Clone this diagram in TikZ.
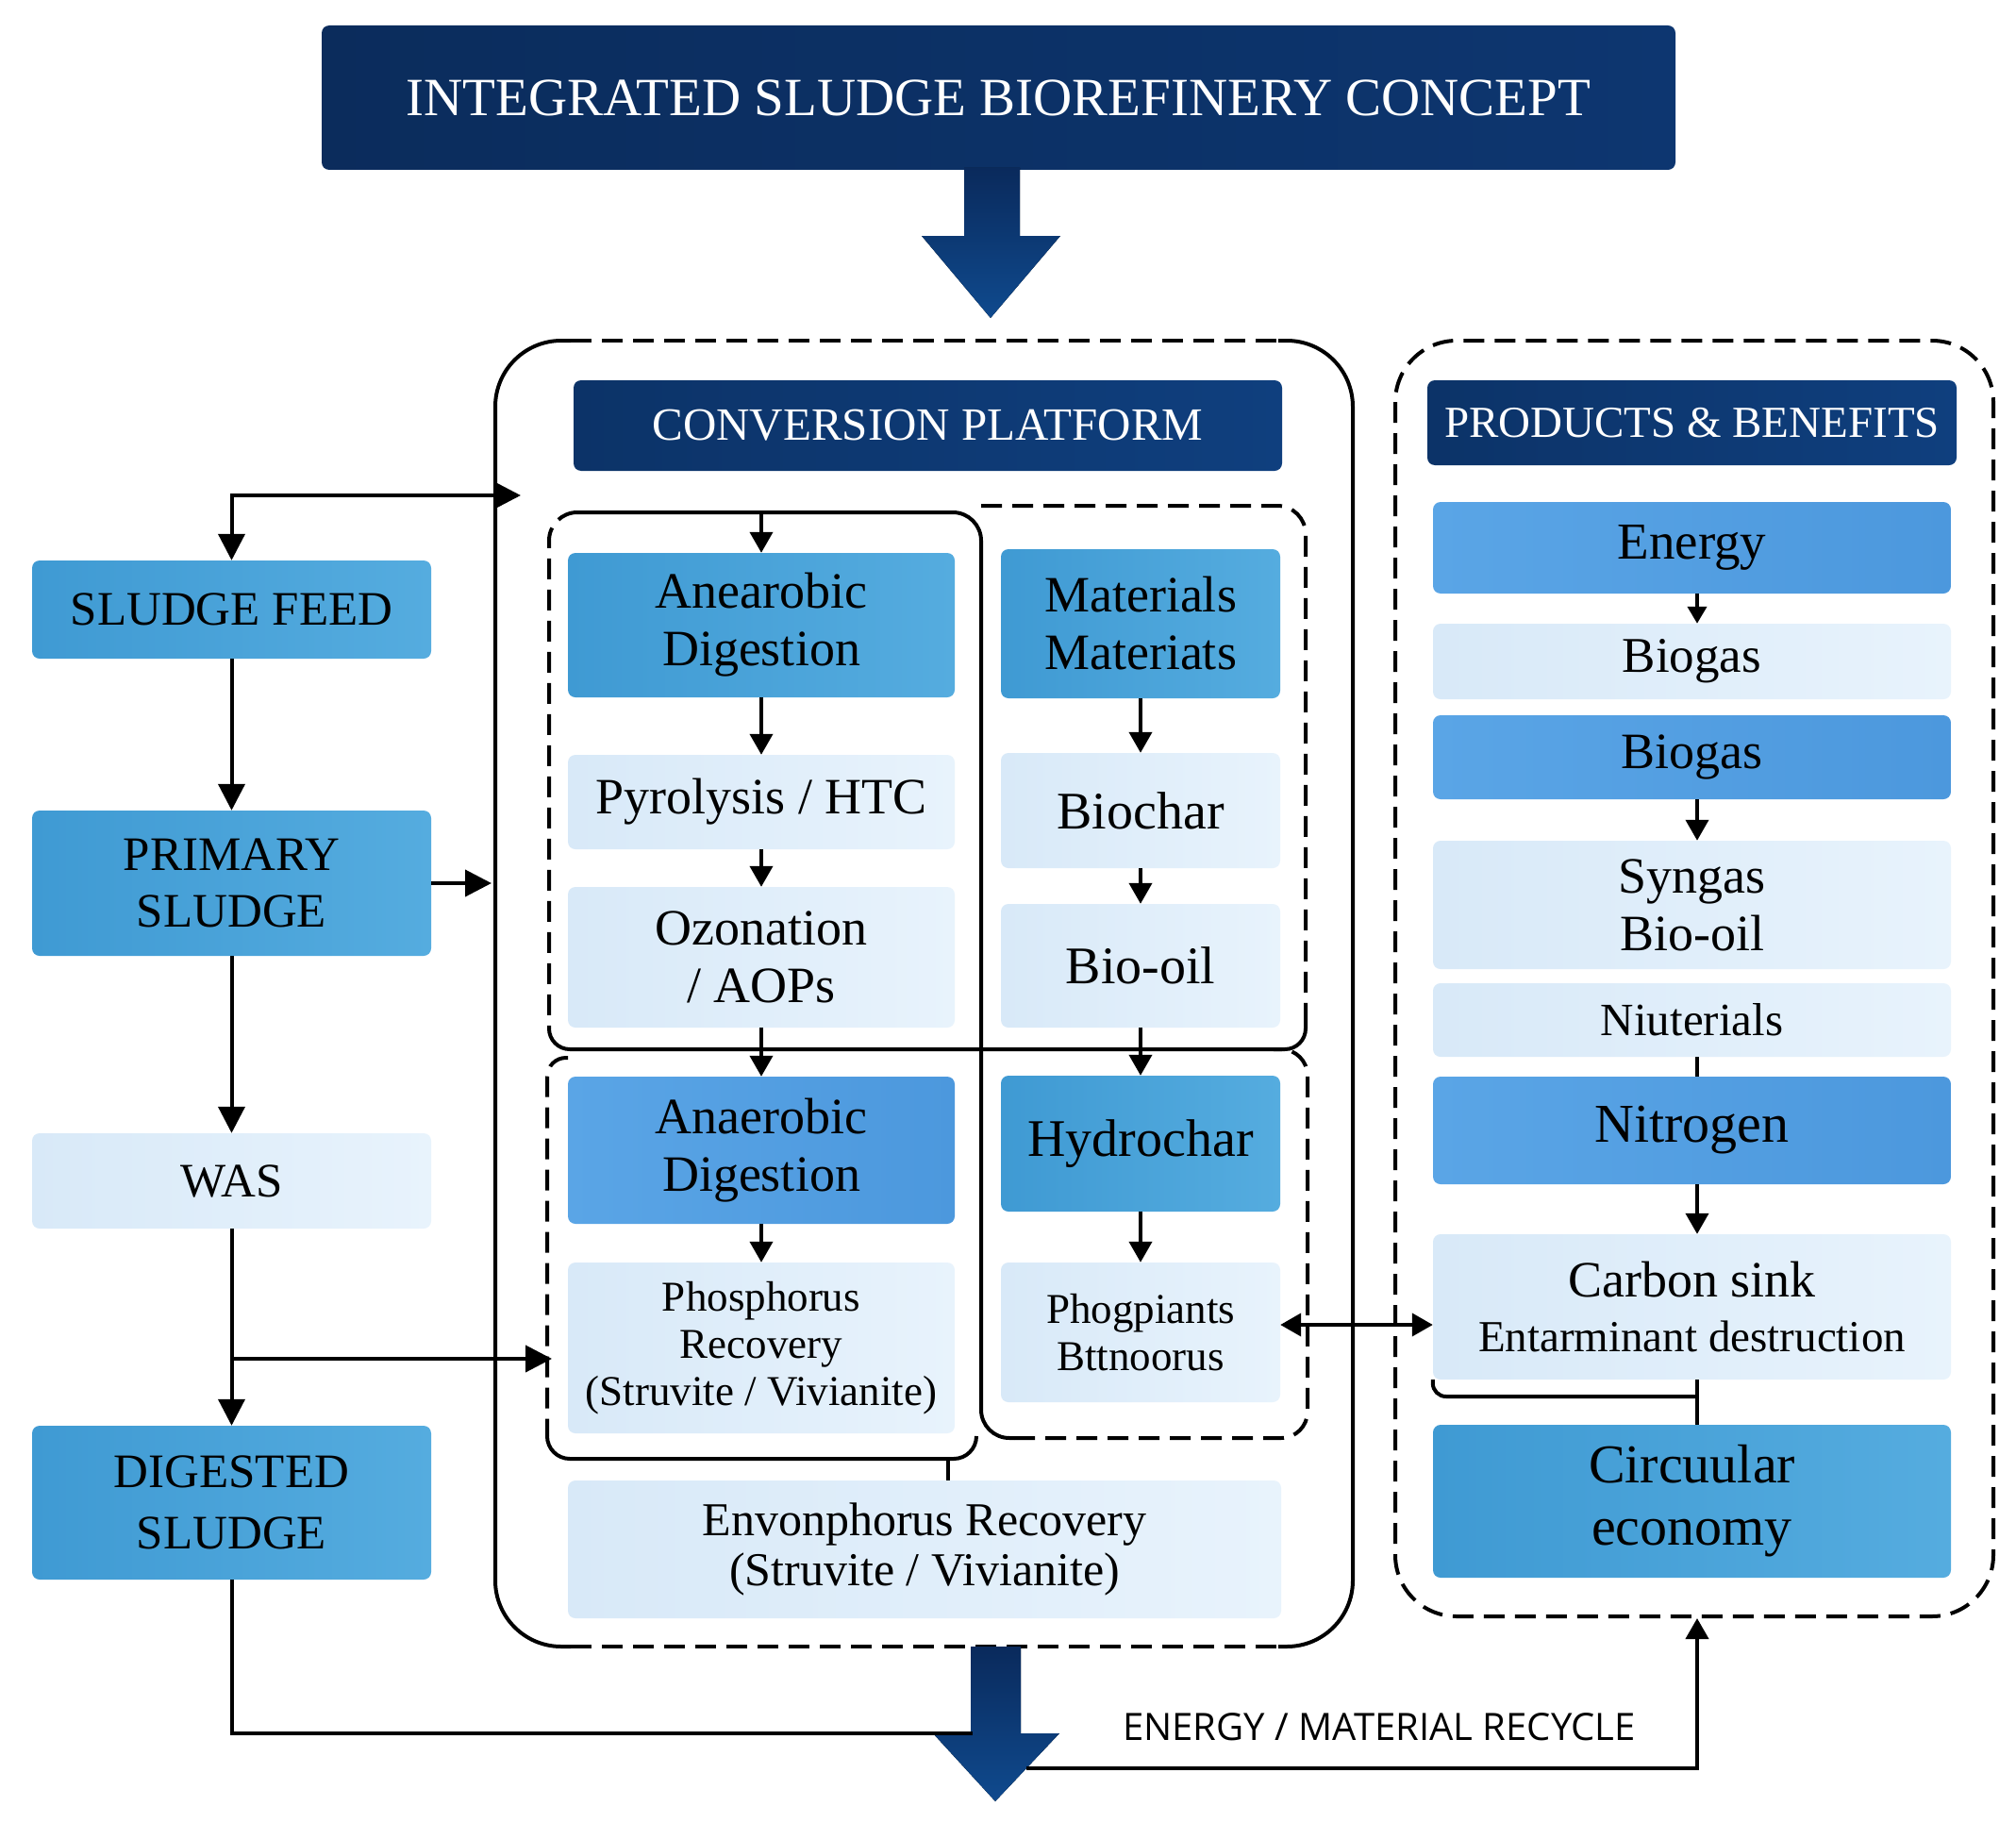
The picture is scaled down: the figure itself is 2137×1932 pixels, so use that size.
\documentclass[tikz,border=0pt]{standalone}
\usepackage{fontspec}
\setmainfont{Liberation Serif}
\newfontfamily\labelsans{Open Sans}
\usetikzlibrary{arrows.meta}
\definecolor{medL}{HTML}{3F9AD3}
\definecolor{medR}{HTML}{55ACDF}
\definecolor{briL}{HTML}{5AA5E6}
\definecolor{briR}{HTML}{4C98DD}
\definecolor{liteL}{HTML}{D8E9F8}
\definecolor{liteR}{HTML}{E8F3FC}
\definecolor{navyL}{HTML}{0B2C5C}
\definecolor{navyR}{HTML}{0D3670}
\definecolor{hdrL}{HTML}{0C3368}
\definecolor{hdrR}{HTML}{0F3F7E}
\definecolor{arrTop}{HTML}{0A2A5C}
\definecolor{arrBot}{HTML}{0F4A8E}
\tikzset{
  base/.style={rounded corners=8pt, inner sep=0pt, align=center, text=black},
  med/.style={base, left color=medL, right color=medR},
  bri/.style={base, left color=briL, right color=briR},
  lite/.style={base, left color=liteL, right color=liteR},
  hdr/.style={base, left color=hdrL, right color=hdrR, text=white},
  conn/.style={line width=4pt, draw=black},
  frm/.style={line width=4pt, draw=black},
  frmd/.style={line width=4pt, draw=black, dash pattern=on 22pt off 11pt},
  BigT/.tip={Triangle[length=28pt,width=28pt]},
  MidT/.tip={Triangle[length=22pt,width=24pt]},
  SmT/.tip={Triangle[length=18pt,width=20pt]},
  bigarrow/.style={top color=arrTop, bottom color=arrBot, draw=none},
  fa/.style={font=\fontsize{51pt}{60pt}\selectfont},
  fb/.style={font=\fontsize{54pt}{61pt}\selectfont},
  fc/.style={font=\fontsize{45pt}{50pt}\selectfont},
  fd/.style={font=\fontsize{50pt}{53pt}\selectfont},
}
\begin{document}
\begin{tikzpicture}[x=1pt,y=-1pt]
\useasboundingbox[fill=white] (0,0) rectangle (2137,1932);

% ---------- title ----------
\node[base, left color=navyL, right color=navyR, text=white, minimum width=1435pt, minimum height=153pt,
      font=\fontsize{57pt}{60pt}\selectfont] (title) at (1058.5,103.5) {INTEGRATED SLUDGE BIOREFINERY CONCEPT};

% ---------- frames ----------
\draw[frm, rounded corners=70pt] (605,361) -| (525,1745) -- (605,1745);
\draw[frm, rounded corners=70pt] (1355,361) -| (1434,1745) -- (1355,1745);
\draw[frmd] (605,361) -- (1355,361);
\draw[frmd] (605,1745) -- (1355,1745);
\draw[frmd, rounded corners=65pt] (1479,361) rectangle (2113,1713);

% inner group frames
\draw[frm, rounded corners=30pt] (612,543) -| (1040,1524) -- (1075,1524);
\draw[frmd, rounded corners=28pt] (1075,1524) -| (1386,1112) -- (1350,1112);
\draw[frmd, rounded corners=30pt] (1040,536) -| (1384,1085);
\draw[frm, rounded corners=22pt] (1384,1085) |- (582,1112) -- (582,1090);
\draw[frmd, rounded corners=30pt] (612,543) -| (582,1090);
\draw[frmd, rounded corners=20pt] (602,1121) -| (580,1521);
\draw[frm, rounded corners=24pt] (580,1521) |- (1035,1546) -- (1035,1522);

% ---------- left column ----------
\node[med, fa, minimum width=423pt, minimum height=104pt] (sf) at (245.5,646) {SLUDGE FEED};
\node[med, fa, minimum width=423pt, minimum height=154pt] (ps) at (245.5,936) {PRIMARY\\SLUDGE};
\node[lite, fa, minimum width=423pt, minimum height=101pt] (was) at (245.5,1251.5) {WAS};
\node[med, font=\fontsize{51pt}{65pt}\selectfont, minimum width=423pt, minimum height=163pt] (ds) at (245.5,1592.5) {DIGESTED\\SLUDGE};

% ---------- conversion platform ----------
\node[hdr, font=\fontsize{49pt}{52pt}\selectfont, minimum width=751pt, minimum height=96pt] (cph) at (983.5,451) {CONVERSION PLATFORM};
\node[med, fb, minimum width=410pt, minimum height=153pt] (ad1) at (807,662.5) {Anearobic\\Digestion};
\node[lite, fb, minimum width=410pt, minimum height=100pt] (pyr) at (807,850) {Pyrolysis / HTC};
\node[lite, fb, minimum width=410pt, minimum height=149pt] (ozo) at (807,1014.5) {Ozonation\\/ AOPs};
\node[med, fb, minimum width=296pt, minimum height=158pt] (mat) at (1209,661) {Materials\\Materiats};
\node[lite, font=\fontsize{56pt}{61pt}\selectfont, minimum width=296pt, minimum height=122pt] (bioc) at (1209,859) {Biochar};
\node[lite, font=\fontsize{56pt}{61pt}\selectfont, minimum width=296pt, minimum height=131pt] (bioo) at (1209,1023.5) {Bio-oil};
\node[bri, fb, minimum width=410pt, minimum height=156pt] (ad2) at (807,1219) {Anaerobic\\Digestion};
\node[lite, fc, minimum width=410pt, minimum height=181pt] (phos) at (807,1428.5) {Phosphorus\\Recovery\\(Struvite / Vivianite)};
\node[med, font=\fontsize{56pt}{61pt}\selectfont, minimum width=296pt, minimum height=144pt] (hyd) at (1209,1212) {Hydrochar};
\node[lite, fc, minimum width=296pt, minimum height=148pt] (phog) at (1209,1412) {Phogpiants\\Bttnoorus};
\node[lite, fd, minimum width=756pt, minimum height=146pt] (env) at (980,1642) {Envonphorus Recovery\\(Struvite / Vivianite)};

% ---------- products ----------
\node[hdr, font=\fontsize{47pt}{50pt}\selectfont, minimum width=561pt, minimum height=90pt] (pbh) at (1793.5,448) {PRODUCTS \& BENEFITS};
\node[bri, font=\fontsize{55pt}{61pt}\selectfont, minimum width=549pt, minimum height=97pt] (energy) at (1793.5,580.5) {Energy};
\node[lite, font=\fontsize{53pt}{60pt}\selectfont, minimum width=549pt, minimum height=80pt] (biog1) at (1793.5,701) {Biogas};
\node[bri, fb, minimum width=549pt, minimum height=89pt] (biog2) at (1793.5,802.5) {Biogas};
\node[lite, fb, minimum width=549pt, minimum height=136pt] (syn) at (1793.5,959) {Syngas\\Bio-oil};
\node[lite, font=\fontsize{49pt}{52pt}\selectfont, minimum width=549pt, minimum height=78pt] (niu) at (1793.5,1081) {Niuterials};
\node[bri, font=\fontsize{58pt}{62pt}\selectfont, minimum width=549pt, minimum height=114pt] (nit) at (1793.5,1198) {Nitrogen};
\node[lite, font=\fontsize{54pt}{58pt}\selectfont, minimum width=549pt, minimum height=154pt] (carb) at (1793.5,1385)
  {Carbon sink\\{\fontsize{47pt}{58pt}\selectfont Entarminant destruction}};
\node[med, font=\fontsize{58pt}{66pt}\selectfont, minimum width=549pt, minimum height=162pt] (circ) at (1793.5,1591) {Circuular\\economy};

% ---------- coordinates ----------
\coordinate (cpin) at (552,525);
\coordinate (cpleft) at (521,936);
\coordinate (brr) at (585,1440);
\coordinate (dsend) at (1031,1837);
\coordinate (rc1) at (1088,1874);
\coordinate (pfb) at (1799,1715);
\coordinate (ultop) at (807,543);
\coordinate (bj) at (1799,1480);
\coordinate (stem) at (1005,1546);

% ---------- big arrows ----------
\fill[bigarrow] (1022,178) -- (1081,178) -- (1081,250) -- (1124,250) -- (1050,337) -- (977,250) -- (1022,250) -- cycle;
\fill[bigarrow] (1029,1745) -- (1082,1745) -- (1082,1837) -- (1123,1837) -- (1055,1909) -- (989,1837) -- (1029,1837) -- cycle;

% ---------- left connectors ----------
\draw[conn, {BigT}-{BigT}] (sf.north) |- (cpin);
\draw[conn, -{BigT}] (sf.south) -- (ps.north);
\draw[conn, -{BigT}] (ps.south) -- (was.north);
\draw[conn, -{BigT}] (was.south) -- (ds.north);
\draw[conn, -{BigT}] (ps.east) -- (cpleft);
\draw[conn, -{BigT}] (was.south |- brr) -- (brr);
\draw[conn] (ds.south) |- (dsend);

% ---------- inner connectors ----------
\draw[conn, -{MidT}] (ultop) -- (ad1.north);
\draw[conn, -{MidT}] (ad1.south) -- (pyr.north);
\draw[conn, -{MidT}] (pyr.south) -- (ozo.north);
\draw[conn, -{MidT}] (ozo.south) -- (ad2.north);
\draw[conn, -{MidT}] (ad2.south) -- (phos.north);
\draw[conn, -{MidT}] (mat.south) -- (bioc.north);
\draw[conn, -{MidT}] (bioc.south) -- (bioo.north);
\draw[conn, -{MidT}] (bioo.south) -- (hyd.north);
\draw[conn, -{MidT}] (hyd.south) -- (phog.north);
\draw[conn] (stem) -- (stem |- env.north);
\draw[conn, {MidT}-{MidT}] ([yshift=8pt]phog.east) -- ([yshift=-19pt]carb.west);

% ---------- product connectors ----------
\draw[conn, -{SmT}] ([xshift=5.5pt]energy.south) -- ([xshift=5.5pt]biog1.north);
\draw[conn, -{MidT}] ([xshift=5.5pt]biog2.south) -- ([xshift=5.5pt]syn.north);
\draw[conn] ([xshift=5.5pt]niu.south) -- ([xshift=5.5pt]nit.north);
\draw[conn, -{MidT}] ([xshift=5.5pt]nit.south) -- ([xshift=5.5pt]carb.north);
\draw[conn] ([xshift=5.5pt]carb.south) -- ([xshift=5.5pt]circ.north);
\draw[conn, rounded corners=14pt] (carb.south west) |- (bj);

% ---------- recycle ----------
\draw[conn, -{MidT}] (rc1) -| (pfb);
\node[font=\labelsans\fontsize{40pt}{42pt}\selectfont, inner sep=0pt] (rlab) at (1462,1830) {ENERGY / MATERIAL RECYCLE};
\end{tikzpicture}
\end{document}
